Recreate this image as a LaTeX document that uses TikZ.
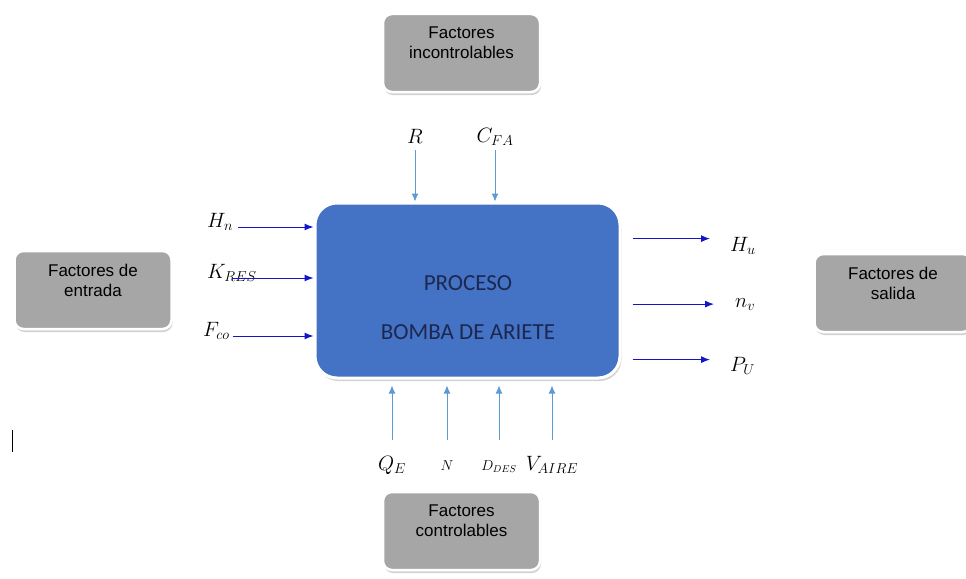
\documentclass[tikz,border=0pt]{standalone}
\usepackage{fontspec}
\setmainfont{Liberation Sans}
\newfontfamily\calfont{Carlito}
\usetikzlibrary{arrows.meta}
\usetikzlibrary{shadows}

\definecolor{procblue}{HTML}{4472C4}
\definecolor{facgray}{HTML}{A6A6A6}
\definecolor{inblue}{HTML}{1414C8}
\definecolor{ctrlblue}{HTML}{5B9BD5}
\definecolor{navytext}{HTML}{1C2850}

\begin{document}
\begin{tikzpicture}[>={Latex[length=9pt,width=7pt]}, x=1pt, y=-1pt]
	\tikzstyle{factor} = [rectangle, rounded corners=9pt, fill=facgray, draw=white, line width=2.5pt, minimum width=157pt, minimum height=78pt, align=center, text depth=20pt, font=\fontsize{17}{20}\selectfont, drop shadow={shadow xshift=1pt, shadow yshift=-3pt, fill=black!35}];
	\tikzstyle{var} = [inner sep=1pt, anchor=base, font=\fontsize{21}{24}\selectfont];
	\tikzstyle{smallvar} = [var, font=\fontsize{14}{17}\selectfont];
	\tikzstyle{inarrow} = [->, draw=inblue, line width=1pt];
	\tikzstyle{ctrlarrow} = [-{Latex[length=8pt,width=7pt]}, draw=ctrlblue, line width=1pt];

	\useasboundingbox (0,0) rectangle (966,578);

	\node [rectangle, rounded corners=22pt, fill=procblue, draw=white, line width=3pt, minimum width=305pt, minimum height=175pt, drop shadow={shadow xshift=1.5pt, shadow yshift=-3pt, fill=black!35}] (proc) at (467.5,290.5) {};
	\node [text=navytext, font=\calfont\fontsize{23}{26}\selectfont] (proctitle) at (468,283) {PROCESO};
	\node [text=navytext, font=\calfont\fontsize{23}{26}\selectfont] (procname) at (468,332) {BOMBA DE ARIETE};

	\node [factor] (incontrol) at (461.5,53) {Factores\\incontrolables};
	\node [factor] (entrada)   at (93,290)   {Factores de\\entrada};
	\node [factor] (salida)    at (893,293)  {Factores de\\salida};
	\node [factor] (control)   at (461.5,531) {Factores\\controlables};

	% entradas
	\node [var, anchor=base west] (hn)   at (206,227) {$H_n$};
	\node [var, anchor=base west] (kres) at (206,278) {$K_{RES}$};
	\node [var, anchor=base west] (fco)  at (202,336) {$F_{co}$};
	\draw [inarrow, shorten <=4pt] (hn.base east) -- (hn.base east -| proc.west);
	\draw [inarrow] (kres.base) -- (kres.base -| proc.west);
	\draw [inarrow, shorten <=2pt] (fco.base east) -- (fco.base east -| proc.west);

	% salidas
	\node [var, anchor=base west] (hu) at (729,251) {$H_u$};
	\node [var, anchor=base west] (nv) at (734,307) {$n_v$};
	\node [var, anchor=base west] (pu) at (729,371) {$P_U$};
	\coordinate (huin) at ([yshift=-3pt]hu.north west);
	\coordinate (puin) at ([yshift=-4pt]pu.north west);
	\draw [inarrow, shorten <=11pt, shorten >=19pt] (proc.east |- huin) -- (huin);
	\draw [inarrow, shorten <=11pt, shorten >=20pt] (proc.east |- nv.west) -- (nv.west);
	\draw [inarrow, shorten <=11pt, shorten >=19pt] (proc.east |- puin) -- (puin);

	% incontrolables
	\node [var] (r)   at (415,143) {$R$};
	\node [var] (cfa) at (495,142) {$C_{FA}$};
	\draw [ctrlarrow, shorten <=6pt] (r.south) -- (r.south |- proc.north);
	\draw [ctrlarrow, shorten <=4pt] (cfa.south) -- (cfa.south |- proc.north);

	% controlables
	\node [var] (qe)          at (392,470) {$Q_E$};
	\node [smallvar] (n)      at (447,470) {$N$};
	\node [smallvar] (ddes)   at (499,470) {$D_{DES}$};
	\node [var] (vaire)       at (552,470) {$V_{AIRE}$};
	\draw [ctrlarrow, shorten <=15pt, shorten >=6pt] (qe.north) -- (qe.north |- proc.south);
	\draw [ctrlarrow, shorten <=19pt, shorten >=6pt] (n.north) -- (n.north |- proc.south);
	\draw [ctrlarrow, shorten <=19pt, shorten >=6pt] (ddes.north) -- (ddes.north |- proc.south);
	\draw [ctrlarrow, shorten <=15pt, shorten >=6pt] (vaire.north) -- (vaire.north |- proc.south);

	\draw [line width=0.8pt] (12,430) -- (12,452);
\end{tikzpicture}
\end{document}
